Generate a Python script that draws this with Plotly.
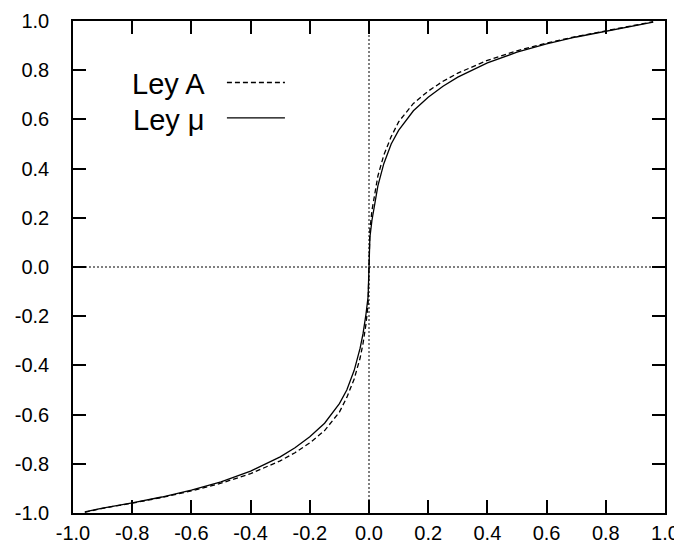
import plotly.graph_objects as go

# Input values (x)
x_vals = [-0.96, -0.9, -0.8, -0.7, -0.6, -0.5, -0.4, -0.3, -0.25, -0.2, -0.15, -0.1,
          -0.075, -0.05, -0.03, -0.02, -0.01, -0.003, 0.0, 0.003, 0.01, 0.02, 0.03,
          0.05, 0.075, 0.1, 0.15, 0.2, 0.25, 0.3, 0.4, 0.5, 0.6, 0.7, 0.8, 0.9, 0.96]

# "Ley A" (dashed curve)
ley_a = [-0.997, -0.981, -0.96, -0.937, -0.91, -0.879, -0.84, -0.788, -0.755, -0.715,
         -0.665, -0.59, -0.53, -0.455, -0.37, -0.31, -0.23, -0.15, 0.0, 0.15, 0.23,
         0.31, 0.37, 0.455, 0.53, 0.59, 0.665, 0.715, 0.755, 0.788, 0.84, 0.879,
         0.91, 0.937, 0.96, 0.981, 0.997]

# "Ley mu" (solid curve)
ley_mu = [-0.995, -0.98, -0.959, -0.935, -0.907, -0.873, -0.83, -0.772, -0.735, -0.69,
          -0.635, -0.555, -0.5, -0.42, -0.33, -0.27, -0.19, -0.12, 0.0, 0.12, 0.19,
          0.27, 0.33, 0.42, 0.5, 0.555, 0.635, 0.69, 0.735, 0.772, 0.83, 0.873,
          0.907, 0.935, 0.959, 0.98, 0.995]

tick_vals = [-1.0, -0.8, -0.6, -0.4, -0.2, 0.0, 0.2, 0.4, 0.6, 0.8, 1.0]
tick_text = ["-1.0", "-0.8", "-0.6", "-0.4", "-0.2", "0.0", "0.2", "0.4", "0.6", "0.8", "1.0"]
legend_labels = ["Ley A", "Ley \u03bc"]

FONT = "Liberation Sans, Arial, sans-serif"

fig = go.Figure()
fig.add_trace(go.Scatter(x=x_vals, y=ley_a, mode="lines", name=legend_labels[0],
                         line=dict(color="black", width=1.3, dash="5px,3px"),
                         showlegend=False))
fig.add_trace(go.Scatter(x=x_vals, y=ley_mu, mode="lines", name=legend_labels[1],
                         line=dict(color="black", width=1.3),
                         showlegend=False))

axis_common = dict(
    range=[-1.0, 1.0], tickvals=tick_vals, ticktext=tick_text,
    ticks="inside", ticklen=13, tickwidth=1.5, tickcolor="black",
    showline=True, linecolor="black", linewidth=1.5, mirror="allticks",
    showgrid=False, zeroline=False, automargin=False,
    tickfont=dict(family=FONT, size=20, color="black"),
)

fig.update_xaxes(**axis_common, ticklabelstandoff=1)
fig.update_yaxes(**axis_common, ticklabelstandoff=18)

# dotted zero axes
fig.add_shape(type="line", xref="paper", yref="y", x0=0, x1=1, y0=0, y1=0,
              line=dict(color="black", width=1, dash="2px,2px"), layer="below")
fig.add_shape(type="line", xref="x", yref="paper", x0=0, x1=0, y0=0, y1=1,
              line=dict(color="black", width=1, dash="2px,2px"), layer="below")

# custom key: text followed by line sample
key_y = [0.871, 0.799]
key_dash = ["5px,3px", "solid"]
for lab, ky, kd in zip(legend_labels, key_y, key_dash):
    fig.add_annotation(xref="paper", yref="paper", x=0.226, y=ky, text=lab,
                       showarrow=False, xanchor="right", yanchor="middle",
                       font=dict(family=FONT, size=29, color="black"))
    fig.add_shape(type="line", xref="paper", yref="paper", x0=0.260, x1=0.358,
                  y0=ky + 0.004, y1=ky + 0.004,
                  line=dict(color="black", width=1.3, dash=kd))

# page body has an 8px default margin, so the figure is sized to compensate
fig.update_layout(
    width=674, height=546,
    margin=dict(l=65, r=17, t=13, b=41),
    paper_bgcolor="white", plot_bgcolor="white",
    font=dict(family=FONT, color="black"),
)

fig.write_html("out.html")
